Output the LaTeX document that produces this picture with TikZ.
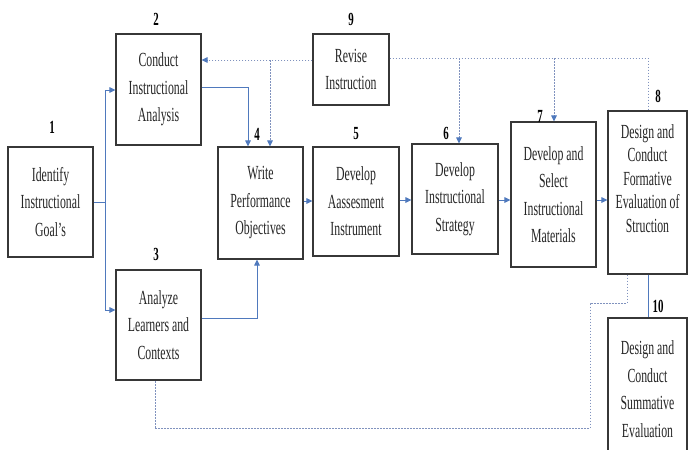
\documentclass[tikz,border=0pt]{standalone}
\usepackage{fontspec}
\setmainfont[FakeStretch=0.59]{Liberation Serif}
\usetikzlibrary{arrows.meta,calc}
\definecolor{conncol}{RGB}{79,121,189}
\definecolor{fbcol}{RGB}{128,146,190}
\definecolor{boxcol}{RGB}{55,55,55}
\tikzset{
  stepbox/.style={draw=boxcol, line width=1.1pt, fill=white, align=center, inner sep=0pt,
    font=\fontsize{20}{27.5}\selectfont, text=black!85},
  numlbl/.style={font=\fontsize{18.5}{20}\selectfont\bfseries, inner sep=0pt},
  conn/.style={draw=conncol, line width=1pt, -{Triangle[length=6pt,width=5.5pt]}},
  connplain/.style={draw=conncol, line width=1pt},
  fb/.style={draw=fbcol, line width=1pt, dash pattern=on 1.6pt off 1.4pt, -{Triangle[length=6pt,width=5.5pt,color=conncol]}},
  fbplain/.style={draw=fbcol, line width=1pt, dash pattern=on 1.6pt off 1.4pt},
}
\begin{document}
\begin{tikzpicture}[x=1pt,y=-1pt]
\useasboundingbox (0,0) rectangle (689,450);
\clip (0,0) rectangle (689,450);
\fill[white] (0,0) rectangle (689,450);
% boxes
\node[stepbox, minimum width=85pt, minimum height=110pt] (b1) at (50.5,202) {Identify\\Instructional\\Goal’s};
\node[stepbox, minimum width=85pt, minimum height=111pt] (b2) at (158.5,89.5) {Conduct\\Instructional\\Analysis};
\node[stepbox, minimum width=85pt, minimum height=110pt] (b3) at (158.5,325) {Analyze\\Learners and\\Contexts};
\node[stepbox, minimum width=85pt, minimum height=112pt] (b4) at (260.5,203) {Write\\Performance\\Objectives};
\node[stepbox, minimum width=86pt, minimum height=109pt] (b5) at (356,201.5) {Develop\\Aassesment\\Instrument};
\node[stepbox, minimum width=86pt, minimum height=110pt] (b6) at (455,199) {Develop\\Instructional\\Strategy};
\node[stepbox, minimum width=85pt, minimum height=145pt] (b7) at (553.5,194.5) {Develop and\\Select\\Instructional\\Materials};
\node[stepbox, minimum width=79pt, minimum height=163pt] (b8) at (647.5,192.5) {};
\node[font=\fontsize{20}{23.5}\selectfont, align=center, text=black!85] (t8) at ($(b8.center)+(0,-14)$) {Design and\\Conduct\\Formative\\Evaluation of\\Struction};
\node[stepbox, minimum width=76pt, minimum height=71pt] (b9) at (351,69.5) {Revise\\Instruction};
\node[stepbox, minimum width=79pt, minimum height=142pt] (b10) at (647.5,389) {Design and\\Conduct\\Summative\\Evaluation};
% numbers
\node[numlbl] (n1) at (52,127) {1};
\node[numlbl] (n2) at (156,19) {2};
\node[numlbl] (n3) at (156,254) {3};
\node[numlbl] (n4) at (257,134) {4};
\node[numlbl] (n5) at (356,134) {5};
\node[numlbl] (n6) at (446,133) {6};
\node[numlbl] (n7) at (540,116) {7};
\node[numlbl] (n8) at (658,96) {8};
\node[numlbl] (n9) at (351,19) {9};
\node[numlbl] (n10) at (658,306) {10};
% solid connectors
\coordinate (j1) at ($(b1.east)+(12,0)$);
\draw[connplain] (b1.east) -- (j1);
\draw[conn] (j1) |- ([yshift=-0.5pt]b2.west);
\draw[conn] (j1) |- ([yshift=15pt]b3.west);
\draw[conn] ([yshift=2.5pt]b2.east) -| ([xshift=-12.5pt]b4.north);
\draw[conn] ([yshift=7pt]b3.east) -| ([xshift=-3.5pt]b4.south);
\draw[conn] ([yshift=2pt]b4.east) -- ([yshift=2pt]b4.east -| b5.west);
\draw[conn] ([yshift=1.5pt]b5.east) -- ([yshift=1.5pt]b5.east -| b6.west);
\draw[conn] ([yshift=-1pt]b6.east) -- ([yshift=-1pt]b6.east -| b7.west);
\draw[conn] ([yshift=-5.5pt]b7.east) -- ([yshift=-5.5pt]b7.east -| b8.west);
\draw[connplain] ([xshift=0.5pt]b8.south) -- ([xshift=0.5pt]b10.north);
% feedback (dashed)
\coordinate (fbL) at ([yshift=9.5pt]b9.west);
\coordinate (fbR) at ([yshift=11.5pt]b9.east);
\draw[fb] (fbL) -- (fbL -| b2.east);
\draw[fb] ([xshift=9.5pt]b4.north |- fbL) -- ([xshift=9.5pt]b4.north);
\draw[fbplain] (fbR) -| ([xshift=0.5pt]b8.north);
\draw[fb] ([xshift=4pt]b6.north |- fbR) -- ([xshift=4pt]b6.north);
\draw[fb] ([xshift=0.5pt]b7.north |- fbR) -- ([xshift=0.5pt]b7.north);
\coordinate (k1) at ($([xshift=-20.5pt]b8.south)+(0,29)$);
\coordinate (k2) at ($(k1)+(-37,0)$);
\coordinate (k3) at ($(k2)+(0,125)$);
\draw[fbplain] ([xshift=-20.5pt]b8.south) -- (k1) -- (k2) -- (k3) -- ([xshift=-3.5pt]b3.south |- k3) -- ([xshift=-3.5pt]b3.south);
\end{tikzpicture}
\end{document}
